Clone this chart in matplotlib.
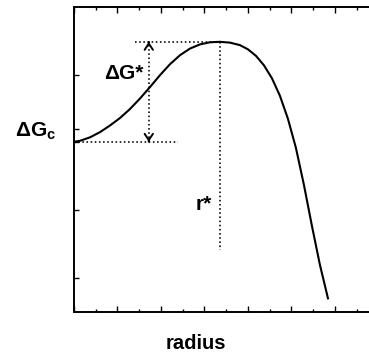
import matplotlib
matplotlib.use("Agg")
import matplotlib.pyplot as plt

plt.rcParams["font.family"] = ["Liberation Sans", "DejaVu Sans"]
plt.rcParams["mathtext.fontset"] = "custom"
plt.rcParams["mathtext.rm"] = "Liberation Sans:bold"
plt.rcParams["mathtext.default"] = "regular"

# free energy curve (arbitrary units)
radius = [0, 0.138, 0.368, 0.598, 0.828, 1.057, 1.287, 1.517, 1.747, 1.977,
          2.207, 2.437, 2.667, 2.897, 3.126, 3.356, 3.586, 3.816, 4.000,
          4.184, 4.368, 4.552, 4.736, 4.920, 5.103, 5.287, 5.471, 5.655, 5.846]
dg = [2.009, 2.024, 2.075, 2.152, 2.250, 2.360, 2.493, 2.648, 2.817, 2.993,
      3.155, 3.288, 3.386, 3.448, 3.479, 3.486, 3.474, 3.437, 3.375,
      3.279, 3.139, 2.947, 2.688, 2.348, 1.920, 1.374, 0.768, 0.192, -0.318]

r_star = 3.356
dg_star = 3.486
dg_base = 2.009
arrow_x = 1.72
r_line_bottom = 0.41

x_major = [0, 1, 2, 3, 4, 5, 6, 7]
x_minor = [0.5, 1.5, 2.5, 3.5, 4.5, 5.5, 6.5]
y_ticks = [0, 1, 2, 2.2, 3]

fig = plt.figure(figsize=(3.69, 3.52), dpi=100)
ax = fig.add_axes([0.2005, 0.1145, 0.825, 0.8656])

ax.plot(radius, dg, color="black", lw=1.5, solid_joinstyle="round",
        solid_capstyle="butt")

dot = dict(color="black", lw=1.15, linestyle=(0, (1, 1.6)))
ax.plot([1.40, r_star], [dg_star, dg_star], **dot)
ax.plot([0, 2.39], [dg_base, dg_base], **dot)
ax.plot([r_star, r_star], [dg_star, r_line_bottom], **dot)
ax.plot([arrow_x, arrow_x], [dg_star - 0.05, dg_base + 0.05], **dot)

head = dict(arrowstyle="->,head_length=0.45,head_width=0.3", color="black",
            lw=1.4, shrinkA=0, shrinkB=0)
ax.annotate("", xy=(arrow_x, dg_star), xytext=(arrow_x, dg_star - 0.01), arrowprops=head)
ax.annotate("", xy=(arrow_x, dg_base), xytext=(arrow_x, dg_base + 0.01), arrowprops=head)

ax.text(1.15, 2.93, "ΔG*", fontsize=15, fontweight="bold", ha="center", va="baseline")
ax.text(2.99, 1.0, "r*", fontsize=15, fontweight="bold", ha="center", va="baseline")
ax.text(-1.36, 2.09, "ΔG$_c$", fontsize=15, fontweight="bold", ha="left",
        va="baseline", clip_on=False)
ax.text(2.8, -1.05, "radius", fontsize=14.5, fontweight="bold", ha="center",
        va="baseline", clip_on=False)

ax.set_xlim(0, 7)
ax.set_ylim(-0.5, 4.0)
ax.set_xticks(x_major)
ax.set_xticks(x_minor, minor=True)
ax.set_yticks(y_ticks)
ax.set_xticklabels([])
ax.set_yticklabels([])
ax.tick_params(axis="x", which="major", direction="in", length=4.5, width=1.0,
               top=True, bottom=True)
ax.tick_params(axis="x", which="minor", direction="in", length=2.2, width=1.0,
               top=True, bottom=True)
ax.tick_params(axis="y", direction="in", length=3.3, width=1.0, left=True, right=False)
for side in ax.spines.values():
    side.set_linewidth(1.4)

fig.savefig("out.png", dpi=100)
